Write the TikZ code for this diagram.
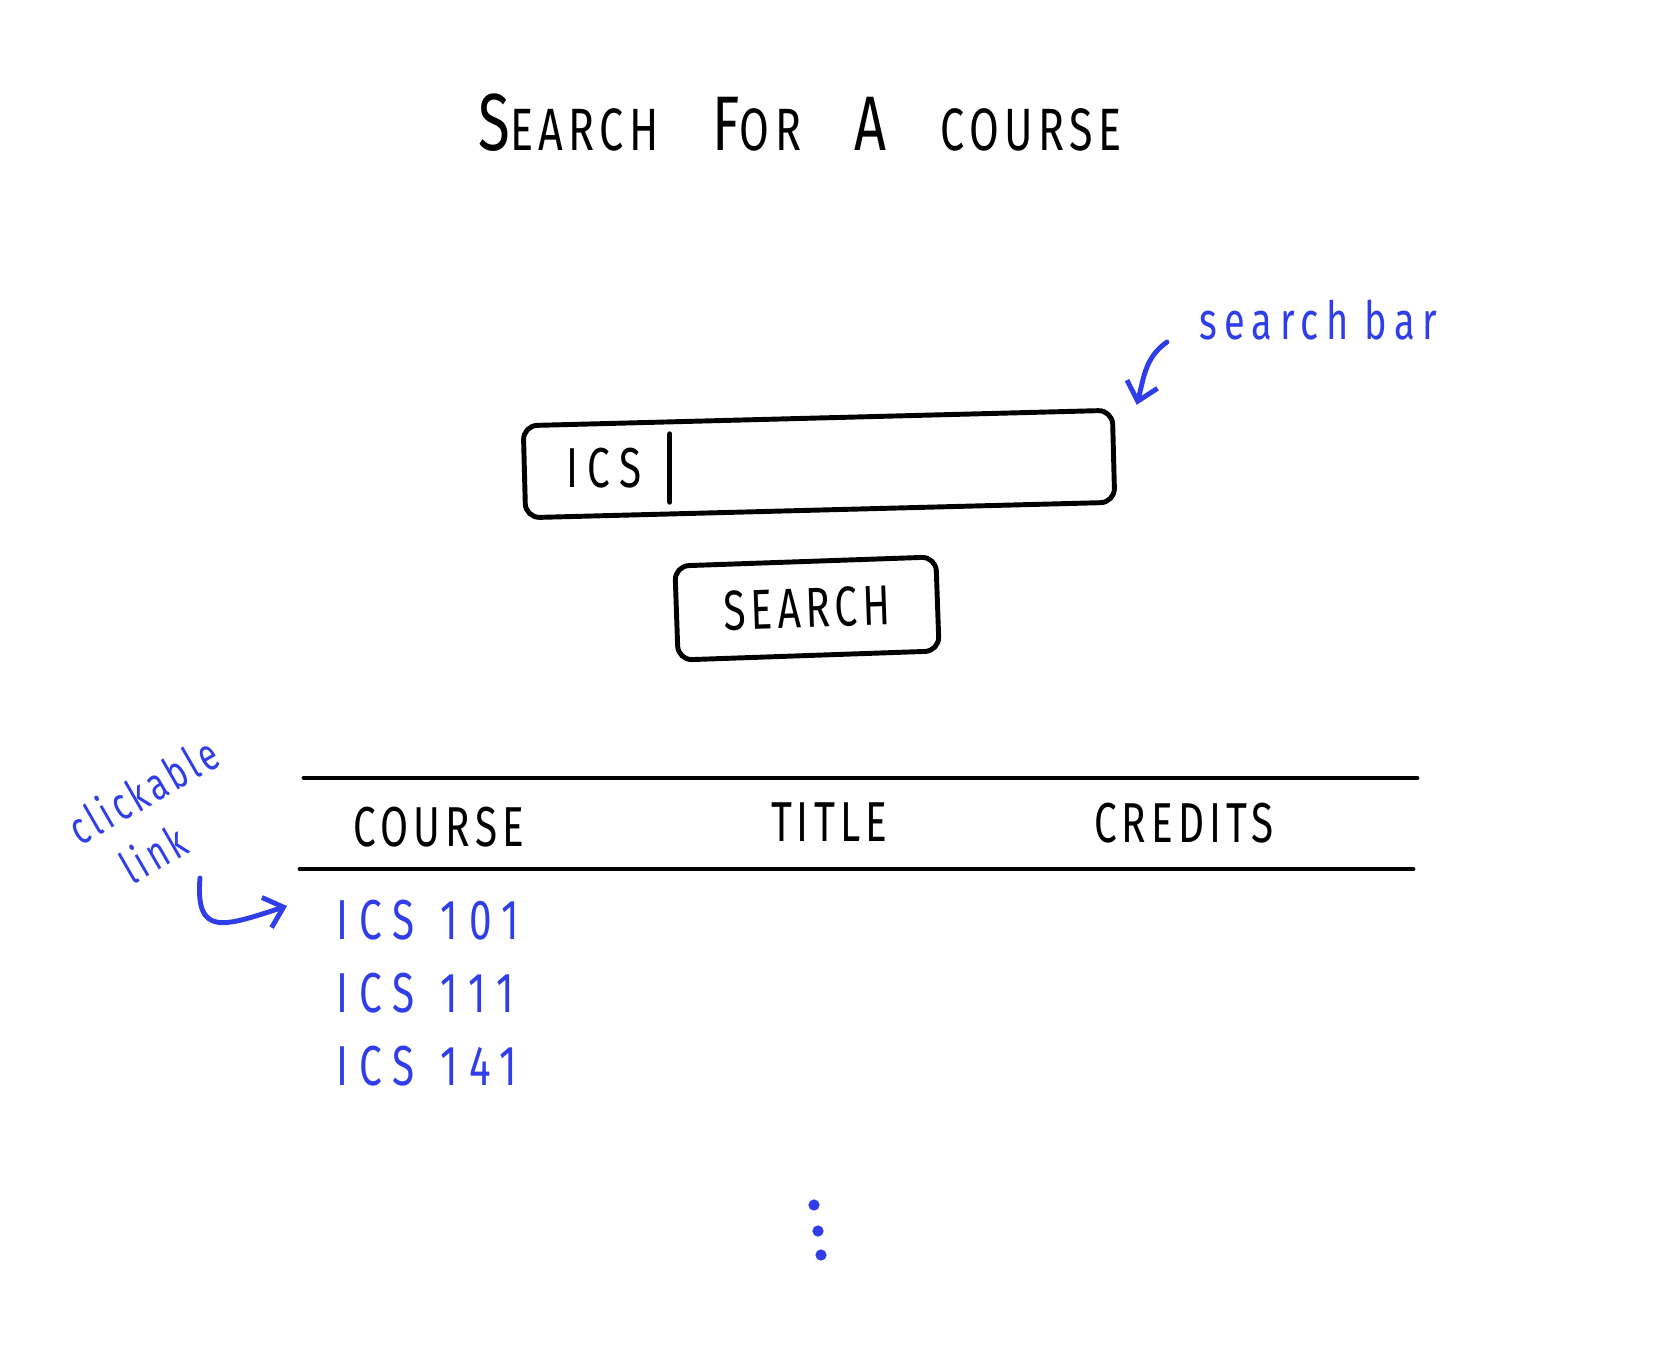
\documentclass[tikz,border=0pt]{standalone}
\usepackage{fontspec}
\setmainfont[FakeStretch=0.72,LetterSpace=9]{Fira Sans}
\usetikzlibrary{arrows.meta}
\usetikzlibrary{positioning}
\usetikzlibrary{calc}
\definecolor{penblue}{RGB}{47,62,232}

\begin{document}
\begin{tikzpicture}[x=0.01cm,y=-0.01cm,line width=1.4pt,line cap=round,line join=round,>={Straight Barb[length=5pt,width=9pt]},every node/.append style={align=center},box/.style={draw, rounded corners=4pt, inner sep=0pt},hand/.style={font=\fontsize{16}{19}\selectfont},note/.style={penblue, font=\fontsize{15}{15}\selectfont\addfontfeature{LetterSpace=14}},link/.style={penblue, hand, anchor=west, font=\fontsize{16}{19}\selectfont\addfontfeature{LetterSpace=20}}]
        \useasboundingbox (0,0) rectangle (1668,1353);
        \node [font=\fontsize{17}{20}\selectfont] (title) at (800,123) {{\fontsize{23}{23}\selectfont S}EARCH\hspace{0.9em}{\fontsize{22}{22}\selectfont F}OR\hspace{0.9em}{\fontsize{22}{22}\selectfont A}\hspace{0.9em}COURSE};

        \node [box, minimum width=5.89cm, minimum height=0.92cm, rotate=1.5] (bar) at (819,464) {};
        \node [anchor=west, font=\fontsize{16}{16}\selectfont] (query) at (552,468) {I\,C\,S};
        \draw ([xshift=4pt]query.north east) -- ([xshift=4pt]query.south east);
        \node [box, hand, minimum width=2.61cm, minimum height=0.94cm, rotate=2, below=0.46cm of bar, xshift=-0.15cm] (button) {SEARCH};

        \node [note] (barnote) at (1318,320) {search\hspace{0.3em}bar};
        \draw [->, penblue] ([shift={(-18,22)}]barnote.west) to[out=215, in=75] ([shift={(22,-3)}]bar.north east);

        % table
        \draw (304,778) -- (1417,778);
        \draw (300,869) -- (1413,869);
        \node [hand] (hcourse) at (439,827) {COURSE};
        \node [hand] (htitle) at (829,822) {TITLE};
        \node [hand] (hcredits) at (1184,823) {CREDITS};
        \foreach \code [count=\i] in {101,111,141}
            \node [link] (row\i) at (322,847+73*\i) {ICS\hspace{0.45em}\code};

        \node [note, rotate=30, align=left, font=\fontsize{13}{17}\selectfont] (linknote) at (158,816) {clickable\\\ \ link};
        \coordinate (hook) at (200,878);
        \draw [->, penblue] (hook) .. controls (195,938) and (225,926) .. ([shift={(-35,-14)}]row1.west);

        \foreach \p in {(814,1205),(818,1231),(821,1255)}
            \fill [penblue] \p circle (1.6pt);
    \end{tikzpicture}
\end{document}
